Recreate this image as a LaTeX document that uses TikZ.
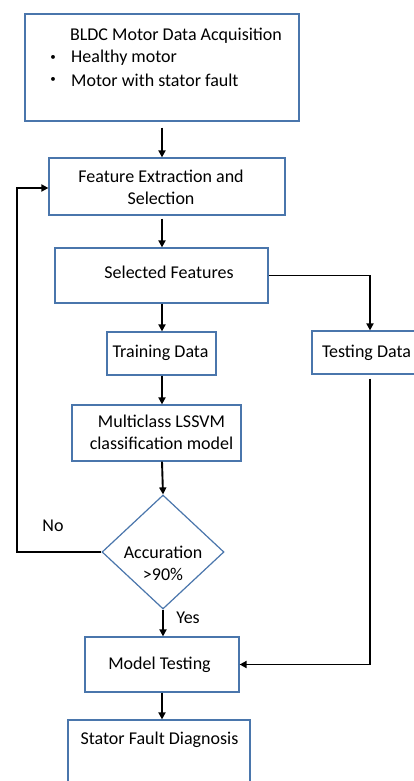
\documentclass[tikz,border=0pt]{standalone}
\usepackage{fontspec}
\setmainfont{Carlito}
\usetikzlibrary{arrows.meta,shapes.geometric}
\definecolor{boxline}{RGB}{74,118,172}
\tikzset{
  box/.style={draw=boxline,line width=1.2pt,rectangle,inner sep=0pt},
  txt/.style={font=\fontsize{18}{22}\selectfont,inner sep=0pt,align=center},
  arr/.style={draw=black,line width=1.9pt,-{Triangle[length=7pt,width=7pt]}},
  dot/.style={font=\fontsize{11}{11}\selectfont,inner sep=0pt}
}
\begin{document}
\begin{tikzpicture}[x=1pt,y=-1pt]
\useasboundingbox (0,0) rectangle (414,781);
\clip (0,0) rectangle (414,781);
\fill[white] (0,0) rectangle (414,781);

% process boxes
\node[box,minimum width=274pt,minimum height=107pt] (acq) at (162,67.5) {};
\node[txt] (acq-t) at (176,36) {BLDC Motor Data Acquisition};
\node[dot] (acq-d1) at (53,58) {•};
\node[dot] (acq-d2) at (53,80) {•};
\node[txt,anchor=west] (acq-b1) at (71,58) {Healthy motor};
\node[txt,anchor=west] (acq-b2) at (71,80) {Motor with stator fault};

\node[box,minimum width=236pt,minimum height=57pt] (fes) at (167,186.5) {};
\node[txt] (fes-t) at (161,187) {Feature Extraction and\\Selection};

\node[box,minimum width=213pt,minimum height=55pt] (sel) at (161.5,275.5) {};
\node[txt] (sel-t) at (169,272) {Selected Features};

\node[box,minimum width=109pt,minimum height=43pt] (train) at (161.5,353.5) {};
\node[txt] (train-t) at (160.5,353) {Training Data};

\node[box,minimum width=110pt,minimum height=43pt] (test) at (367,352.5) {};
\node[txt] (test-t) at (366.5,353) {Testing Data};

\node[box,minimum width=169pt,minimum height=56pt] (svm) at (156.5,433) {};
\node[txt] (svm-t) at (161.5,432.5) {Multiclass LSSVM\\classification model};

\node[box,diamond,minimum width=122pt,minimum height=114pt] (dec) at (163,552) {};
\node[txt] (dec-t) at (163,563) {Accuration\\>90\%};

\node[box,minimum width=154pt,minimum height=55pt] (mt) at (162,664.5) {};
\node[txt] (mt-t) at (159.5,665) {Model Testing};

\node[box,minimum width=182pt,minimum height=90pt] (sfd) at (159,765) {};
\node[txt] (sfd-t) at (159.5,740) {Stator Fault Diagnosis};

% branch labels
\node[txt] (no) at (53,526) {No};
\node[txt] (yes) at (188,618) {Yes};

% connectors
\coordinate (loopL) at (17,0);
\coordinate (rightL) at (370,0);
\draw[arr] ([yshift=-6pt]acq.south) -- (acq.south |- fes.north);
\draw[arr] ([yshift=-3pt]fes.south -| acq) -- (acq |- sel.north);
\draw[arr] (sel.south -| acq) -- (acq |- train.north);
\draw[arr] (train.south -| acq) -- (acq |- svm.north);
\draw[arr] (svm.south -| acq) -- (dec.north);
\draw[arr] (dec.south) -- (dec.south |- mt.north);
\draw[arr] (mt.south) -- (mt.south |- sfd.north);
\draw[arr] (dec.west) -- (dec.west -| loopL) -- (loopL |- 0,188) -- (fes.west |- 0,188);
\draw[arr] (sel.east) -- (sel.east -| rightL) -- (rightL |- test.north);
\draw[arr] ([yshift=-4pt]test.south -| rightL) -- (rightL |- mt.east) -- (mt.east);
\end{tikzpicture}
\end{document}
